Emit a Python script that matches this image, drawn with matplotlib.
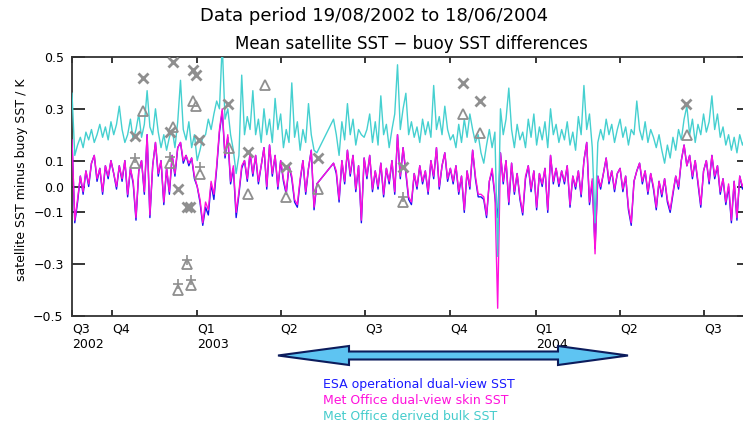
import numpy as np
import matplotlib
matplotlib.use("Agg")
import matplotlib.pyplot as plt
from matplotlib.patches import Polygon

nan = np.nan
# sampling every 3 days from 19/08/2002 (day 0)
step_days = 3

bulk = [  # Met Office derived bulk SST (cyan)
    0.36, 0.12, 0.16, 0.19, 0.15, 0.21, 0.18, 0.22, 0.17, 0.20, 0.24, 0.19, 0.23, 0.18, 0.25,
    0.20, 0.24, 0.31, 0.22, 0.17, 0.20, 0.26, 0.18, 0.22, 0.28, 0.19, 0.24, 0.37, 0.23, 0.20,
    0.30, 0.21, 0.15, 0.20, 0.14, 0.19, 0.22, 0.15, 0.25, 0.41, 0.22, 0.18, 0.25, 0.15, 0.20,
    0.10, 0.14, 0.19, 0.20, 0.26, 0.22, 0.28, 0.33, 0.30, 0.55, 0.26, 0.30, 0.20, 0.14, 0.05,
    0.12, 0.43, 0.20, 0.27, 0.22, 0.37, 0.20, 0.26, 0.17, 0.30, 0.20, 0.26, 0.17, 0.34, 0.22,
    0.28, 0.15, 0.22, 0.17, 0.40, 0.19, 0.25, 0.14, 0.22, 0.17, 0.32, 0.20, 0.14, 0.13,
    nan, nan, nan, nan, nan,
    0.26, 0.20, 0.12, 0.25, 0.18, 0.32, 0.20, 0.26, 0.16, 0.22, 0.20, 0.19,
    0.22, 0.28, 0.17, 0.25, 0.16, 0.35, 0.20, 0.24, 0.15, 0.22, 0.28, 0.47, 0.22, 0.30, 0.36,
    0.20, 0.25, 0.19, 0.23, 0.17, 0.26, 0.20, 0.25, 0.19, 0.39, 0.22, 0.27, 0.20, 0.31, 0.22, 0.18,
    0.20, 0.15, 0.24, 0.17, 0.26, 0.19, 0.28, 0.22, 0.17, 0.20, 0.13, 0.09, 0.16, 0.22, 0.15,
    0.21, -0.27, 0.30, 0.20, 0.26, 0.38, 0.22, 0.15, 0.24, 0.18, 0.21, 0.15, 0.26, 0.19, 0.28,
    0.16, 0.23, 0.18, 0.25, 0.15, 0.30, 0.20, 0.24, 0.17, 0.22, 0.18, 0.25, 0.16, 0.21, 0.14,
    0.27, 0.20, 0.39, 0.22, 0.28, 0.15, -0.14, 0.17, 0.22, 0.18, 0.26, 0.20, 0.24, 0.17, 0.22,
    0.26, 0.19, 0.23, 0.16, 0.22, 0.20, 0.33, 0.22, 0.18, 0.25, 0.17, 0.22, 0.19, 0.15, 0.20,
    0.14, 0.09, 0.16, 0.11, 0.19, 0.14, 0.22, 0.18, 0.26, 0.31, 0.20, 0.26, 0.17, 0.24, 0.20,
    0.28, 0.21, 0.25, 0.35, 0.22, 0.28, 0.19, 0.23, 0.16, 0.20, 0.14, 0.19, 0.13, 0.20, 0.16,
    0.19, 0.17,
]

skin = [  # Met Office dual-view skin SST (magenta)
    0.18, -0.13, -0.05, 0.04, -0.02, 0.06, 0.01, 0.09, 0.12, 0.03, 0.07, -0.02, 0.08, 0.04, 0.10,
    0.05, 0.00, 0.08, 0.03, 0.10, -0.03, 0.07, 0.02, -0.12, 0.06, 0.10, -0.02, 0.20, -0.11, 0.08,
    0.17, 0.05, 0.10, -0.06, 0.07, -0.02, 0.12, 0.05, 0.15, 0.17, 0.10, 0.12, 0.09, 0.11, 0.04,
    0.00, -0.05, -0.14, -0.06, -0.09, 0.02, -0.03, 0.08, 0.22, 0.30, 0.12, 0.20, 0.02, 0.08, -0.10,
    -0.02, 0.08, 0.10, 0.03, 0.13, 0.05, 0.12, 0.02, 0.08, 0.15, 0.00, 0.16, 0.05, 0.12, 0.00,
    0.10, 0.03, -0.02, 0.08, 0.04, -0.05, -0.07, 0.03, 0.10, -0.02, 0.07, 0.14, -0.08, 0.01,
    nan, nan, nan, nan, nan,
    0.09, 0.06, -0.05, 0.10, 0.02, 0.14, 0.05, 0.12, -0.01, 0.08, -0.13, 0.11,
    0.04, 0.12, -0.01, 0.06, 0.00, 0.09, -0.03, 0.07, 0.02, 0.10, -0.02, 0.20, 0.04, 0.15, 0.06,
    -0.04, -0.06, 0.05, 0.00, 0.08, 0.02, 0.06, -0.02, 0.10, 0.04, 0.15, 0.00, 0.08, 0.13, 0.03, 0.07,
    0.02, 0.08, -0.02, 0.04, -0.09, 0.06, 0.00, 0.14, 0.04, -0.03, -0.03, -0.04, -0.11, 0.02, 0.07,
    -0.03, -0.47, 0.13, 0.02, 0.10, -0.06, 0.09, -0.02, 0.05, -0.04, -0.10, 0.04, 0.08, -0.01, 0.06,
    -0.08, 0.05, 0.01, 0.07, -0.09, 0.12, 0.02, 0.07, 0.01, 0.06, 0.02, 0.08, -0.07, 0.04, 0.00,
    0.06, -0.03, 0.10, 0.17, -0.06, 0.03, -0.26, 0.04, 0.00, 0.05, 0.11, 0.02, 0.06, -0.01, 0.05,
    0.07, -0.01, 0.04, -0.08, -0.14, 0.02, 0.06, 0.09, 0.02, 0.06, -0.02, 0.05, 0.00, -0.08, 0.02,
    -0.03, 0.03, -0.05, -0.09, -0.02, 0.04, 0.00, 0.10, 0.16, 0.08, 0.12, 0.04, 0.10, 0.02, -0.07,
    0.06, 0.10, 0.02, 0.12, 0.04, 0.08, -0.02, 0.03, -0.06, 0.01, -0.13, 0.02, -0.12, 0.04, 0.00,
    0.03, 0.01,
]

esa = [  # ESA operational dual-view SST (blue)
    0.18, -0.14, -0.06, 0.04, -0.03, 0.06, 0.00, 0.09, 0.12, 0.02, 0.07, -0.03, 0.08, 0.03, 0.10,
    0.05, -0.01, 0.08, 0.02, 0.10, -0.04, 0.07, 0.01, -0.13, 0.06, 0.10, -0.03, 0.20, -0.12, 0.08,
    0.17, 0.04, 0.10, -0.07, 0.07, -0.03, 0.12, 0.04, 0.15, 0.17, 0.09, 0.12, 0.08, 0.11, 0.03,
    0.00, -0.06, -0.15, -0.08, -0.11, 0.01, -0.05, 0.07, 0.21, 0.29, 0.11, 0.19, 0.01, 0.07, -0.12,
    -0.03, 0.07, 0.10, 0.02, 0.13, 0.04, 0.12, 0.01, 0.08, 0.15, -0.01, 0.16, 0.04, 0.12, -0.01,
    0.10, 0.02, -0.03, 0.08, 0.03, -0.06, -0.08, 0.02, 0.10, -0.03, 0.07, 0.14, -0.09, 0.01,
    nan, nan, nan, nan, nan,
    0.09, 0.05, -0.06, 0.10, 0.01, 0.14, 0.04, 0.12, -0.02, 0.08, -0.14, 0.11,
    0.03, 0.12, -0.02, 0.06, -0.01, 0.09, -0.04, 0.07, 0.01, 0.10, -0.03, 0.20, 0.03, 0.15, 0.05,
    -0.05, -0.07, 0.05, -0.01, 0.08, 0.01, 0.06, -0.03, 0.10, 0.03, 0.15, -0.01, 0.08, 0.13, 0.02, 0.07,
    0.01, 0.08, -0.03, 0.04, -0.10, 0.06, -0.01, 0.14, 0.03, -0.04, -0.04, -0.05, -0.12, 0.02, 0.06,
    -0.04, -0.12, 0.13, 0.01, 0.10, -0.07, 0.09, -0.03, 0.05, -0.05, -0.11, 0.03, 0.08, -0.02, 0.06,
    -0.09, 0.05, 0.00, 0.07, -0.10, 0.12, 0.01, 0.07, 0.00, 0.06, 0.01, 0.08, -0.08, 0.04, -0.01,
    0.06, -0.04, 0.10, 0.17, -0.07, 0.02, -0.24, 0.04, -0.01, 0.05, 0.11, 0.01, 0.06, -0.02, 0.05,
    0.07, -0.02, 0.04, -0.09, -0.15, 0.02, 0.06, 0.09, 0.01, 0.06, -0.03, 0.05, -0.01, -0.09, 0.02,
    -0.04, 0.03, -0.06, -0.10, -0.03, 0.04, -0.01, 0.10, 0.16, 0.08, 0.12, 0.03, 0.10, 0.01, -0.08,
    0.06, 0.10, 0.01, 0.12, 0.03, 0.08, -0.03, 0.03, -0.07, 0.00, -0.14, 0.02, -0.13, 0.04, -0.01,
    0.03, 0.00,
]

# grey symbols (day since 19/08/2002, difference)
cross_days = [77, 68, 109, 130, 134, 106, 137, 168, 190, 114, 124, 127, 231, 265, 357, 422, 440, 662]
cross_vals = [0.42, 0.195, 0.48, 0.45, 0.43, 0.21, 0.18, 0.32, 0.135, -0.01, -0.08, -0.08,
              0.075, 0.11, 0.075, 0.40, 0.33, 0.32]
tri_days = [77, 68, 130, 134, 109, 169, 106, 138, 190, 124, 114, 128, 208, 231, 265, 357, 422, 440, 663]
tri_vals = [0.29, 0.09, 0.33, 0.31, 0.23, 0.15, 0.09, 0.05, -0.03, -0.30, -0.40, -0.38,
            0.39, -0.04, -0.01, -0.06, 0.28, 0.205, 0.20]
plus_days = [68, 106, 138, 124, 114, 128, 357]
plus_vals = [0.11, 0.115, 0.075, -0.285, -0.375, -0.36, -0.04]

quarter_days = [0, 43, 135, 225, 316, 408, 500, 591, 682]
quarter_labels = ["Q3\n2002", "Q4", "Q1\n2003", "Q2", "Q3", "Q4", "Q1\n2004", "Q2", "Q3"]
y_ticks = [0.5, 0.3, 0.1, 0.0, -0.1, -0.3, -0.5]
y_labels = ["0.5", "0.3", "0.1", "0.0", "\u22120.1", "\u22120.3", "\u22120.5"]

legend_labels = ["ESA operational dual-view SST", "Met Office dual-view skin SST",
                 "Met Office derived bulk SST"]
c_esa, c_skin, c_bulk = "#1414f0", "#ff10dc", "#45d0d0"
grey = "#8f8f8f"

W, H = 743, 423
fig = plt.figure(figsize=(W / 100, H / 100), dpi=100)
ax = fig.add_axes([72 / W, 107 / H, 677 / W, 259 / H])

days = np.arange(len(bulk)) * step_days


def draw(yvals, color, z):
    y = np.array(yvals, dtype=float)
    ok = ~np.isnan(y)
    # missing days are bridged by a straight line, as in the original
    ax.plot(days[ok], y[ok], color=color, lw=1.0, zorder=z)


draw(esa, c_esa, 2)
draw(skin, c_skin, 3)
draw(bulk, c_bulk, 4)

ax.plot(cross_days, cross_vals, ls="none", marker="x", ms=7, mew=2.0, color=grey, zorder=5)
ax.plot(tri_days, tri_vals, ls="none", marker="^", ms=6.5, mew=1.3, mfc="none", mec=grey, zorder=5)
ax.plot(plus_days, plus_vals, ls="none", marker="+", ms=7, mew=1.2, color=grey, zorder=5)

ax.set_xlim(0, 730)
ax.set_ylim(-0.5, 0.5)
ax.set_yticks(y_ticks)
ax.set_yticklabels(y_labels, fontsize=9)
ax.set_xticks(quarter_days)
ax.set_xticklabels(quarter_labels, fontsize=9, ha="left", va="top")
ax.tick_params(axis="y", direction="in", length=9, width=1.1, left=True, right=True, pad=6)
ax.tick_params(axis="x", direction="in", length=4, width=1.1, bottom=True, top=True, pad=5)
for s in ax.spines.values():
    s.set_linewidth(1.3)
    s.set_color("#333333")

fig.text(374 / W, 1 - 16 / H, "Data period 19/08/2002 to 18/06/2004", ha="center", va="center", fontsize=13)
fig.text(411 / W, 1 - 44 / H, "Mean satellite SST \u2212 buoy SST differences", ha="center", va="center", fontsize=12)
fig.text(22 / W, 1 - 180 / H, "satellite SST minus buoy SST / K", rotation=90, ha="center", va="center", fontsize=9)

# double-headed arrow below the axis
pts = [(278, 355.5), (349, 346), (349, 351.5), (558, 351.5), (558, 346), (628, 355.5),
       (558, 365), (558, 359.5), (349, 359.5), (349, 365)]
poly = Polygon([(px / W, 1 - py / H) for px, py in pts], closed=True, transform=fig.transFigure,
               facecolor="#5ec4f2", edgecolor="#0c1c5c", lw=1.5)
fig.patches.append(poly)

for i, (lab, col) in enumerate(zip(legend_labels, ["#1a1aff", "#ff10dc", "#45cccc"])):
    fig.text(323 / W, 1 - (384 + 16 * i) / H, lab, color=col, ha="left", va="center", fontsize=9)

fig.savefig("out.png", dpi=100)
